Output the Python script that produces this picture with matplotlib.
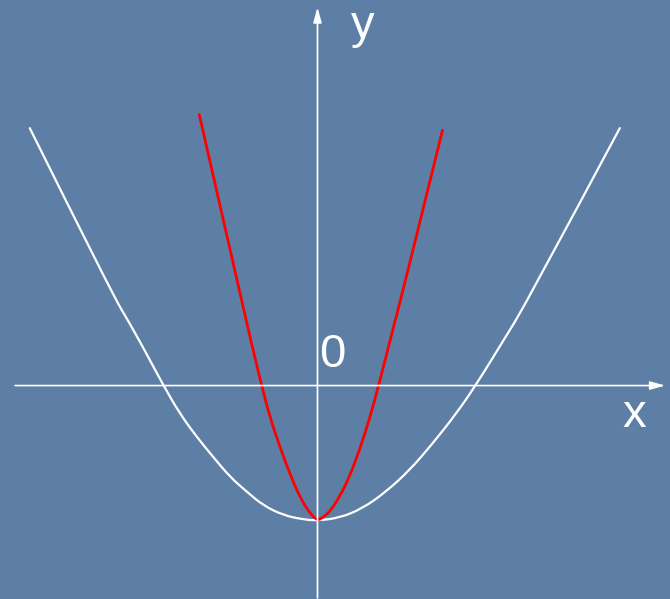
from matplotlib import pyplot as plt
from matplotlib.path import Path
from matplotlib.patches import PathPatch
import numpy as np

# points (1 unit ~ 52 px, origin at the axes crossing)
white_x = [-5.50, -3.93, -3.59, -3.27, -2.95, -2.63, -2.31, -1.99, -1.67, -1.35,
           -1.04, -0.65, -0.27, 0.0, 0.42, 0.86, 1.31, 1.76, 2.20, 2.65,
           3.03, 3.56, 3.99, 5.78]
white_y = [4.92, 1.76, 1.19, 0.61, 0.01, -0.54, -0.98, -1.37, -1.75, -2.03,
           -2.29, -2.48, -2.56, -2.58, -2.53, -2.35, -2.03, -1.62, -1.11, -0.54,
           0.01, 0.87, 1.57, 4.92]

red_x = [-2.26, -1.45, -1.35, -1.20, -1.07, -0.91, -0.72, -0.53, -0.34, -0.14,
         0.0, 0.10, 0.23, 0.42, 0.61, 0.80, 0.99, 1.17, 1.31, 1.47, 1.59, 2.39]
red_y = [5.18, 1.63, 1.19, 0.55, 0.01, -0.60, -1.17, -1.68, -2.13, -2.45,
         -2.58, -2.52, -2.42, -2.13, -1.75, -1.24, -0.66, 0.01, 0.55, 1.19, 1.63, 4.88]

origin_label = "0"
x_label = "x"
y_label = "y"

bg = "#5d7fa6"
plt.rcParams["font.family"] = ["Liberation Sans", "DejaVu Sans"]


def smooth_path(xs, ys):
    # quadratic bezier pieces: read points act as control points
    pts = np.column_stack((xs, ys))
    verts = [pts[0]]
    codes = [Path.MOVETO]
    for i in range(1, len(pts) - 2):
        verts += [pts[i], (pts[i] + pts[i + 1]) / 2]
        codes += [Path.CURVE3, Path.CURVE3]
    verts += [pts[-2], pts[-1]]
    codes += [Path.CURVE3, Path.CURVE3]
    return Path(verts, codes)


fig = plt.figure(figsize=(6.70, 5.99), dpi=100)
fig.patch.set_facecolor(bg)
ax = fig.add_axes([0, 0, 1, 1])
ax.set_facecolor(bg)
ax.set_xlim(-6.07, 6.74)
ax.set_ylim(-4.08, 7.37)
ax.axis("off")

# axes with arrow heads
arrow = dict(arrowstyle="-|>,head_length=0.9,head_width=0.25", color="white",
             lw=1.2, shrinkA=0, shrinkB=0)
ax.annotate("", xy=(6.65, 0), xytext=(-5.78, 0), arrowprops=arrow)
ax.annotate("", xy=(0, 7.23), xytext=(0, -4.06), arrowprops=arrow)

ax.add_patch(PathPatch(smooth_path(white_x, white_y), fill=False,
                       edgecolor="white", lw=1.6, capstyle="round"))
ax.add_patch(PathPatch(smooth_path(red_x, red_y), fill=False,
                       edgecolor="#ff0000", lw=2.0, capstyle="round"))

ax.text(0.28, 0.36, origin_label, color="white", fontsize=34, ha="center", va="baseline")
ax.text(6.06, -0.80, x_label, color="white", fontsize=34, ha="center", va="baseline")
ax.text(0.87, 6.64, y_label, color="white", fontsize=34, ha="center", va="baseline")

plt.savefig("out.png", dpi=100, facecolor=bg)
